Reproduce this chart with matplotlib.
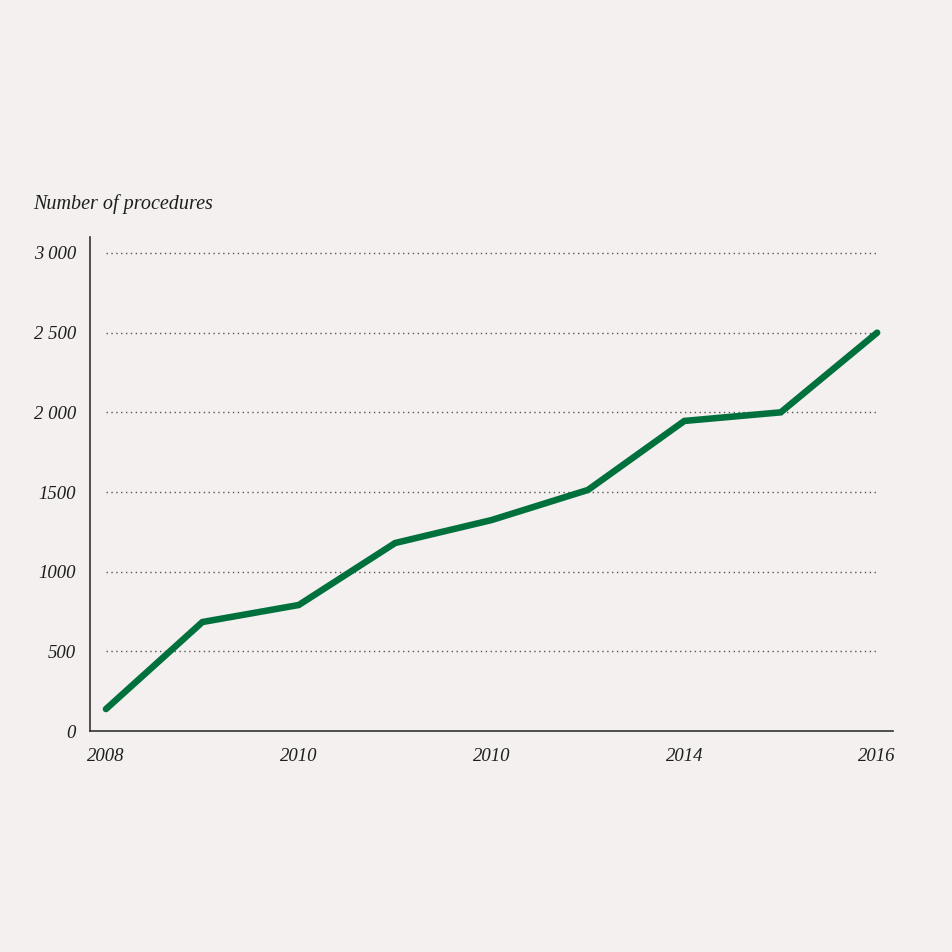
import matplotlib.pyplot as plt

# data
years = [2008, 2009, 2010, 2011, 2012, 2013, 2014, 2015, 2016]
procedures = [138, 684, 791, 1180, 1324, 1513, 1946, 2000, 2500]
x_tick_pos = [0, 2, 4, 6, 8]
x_tick_labels = ['2008', '2010', '2010', '2014', '2016']
y_ticks = [0, 500, 1000, 1500, 2000, 2500, 3000]
y_tick_labels = ['0', '500', '1000', '1500', '2 000', '2 500', '3 000']

bg = '#f3f0ef'
green = '#00703c'

plt.rcParams['font.family'] = ['Liberation Serif', 'DejaVu Serif']
plt.rcParams['font.style'] = 'italic'

fig = plt.figure(figsize=(9.52, 9.52), dpi=100, facecolor=bg)
ax = fig.add_axes([0.0945, 0.2321, 0.8435, 0.5189])
ax.set_facecolor(bg)

xs = list(range(len(years)))

# dotted grid only across the data range
for v in y_ticks[1:]:
    ax.hlines(v, xs[0], xs[-1], colors='#555555', linestyles=(0, (1, 2.5)), linewidth=1)

ax.plot(xs, procedures, color=green, linewidth=4.7, solid_capstyle='round',
        solid_joinstyle='miter', zorder=3)

ax.set_xlim(-0.166, 8.164)
ax.set_ylim(0, 3100)
ax.set_xticks(x_tick_pos)
ax.set_xticklabels(x_tick_labels)
ax.set_yticks(y_ticks)
ax.set_yticklabels(y_tick_labels)
ax.tick_params(axis='both', length=0, labelsize=13.5, colors='#1e1e1e')
ax.tick_params(axis='y', pad=10)
ax.tick_params(axis='x', pad=12)

for s in ['top', 'right']:
    ax.spines[s].set_visible(False)
for s in ['left', 'bottom']:
    ax.spines[s].set_color('#333333')
    ax.spines[s].set_linewidth(1.2)

fig.text(33 / 952, 1 - 204 / 952, 'Number of procedures', fontsize=14.5,
         ha='left', va='center', color='#1e1e1e')

fig.savefig('out.png', dpi=100, facecolor=bg)
